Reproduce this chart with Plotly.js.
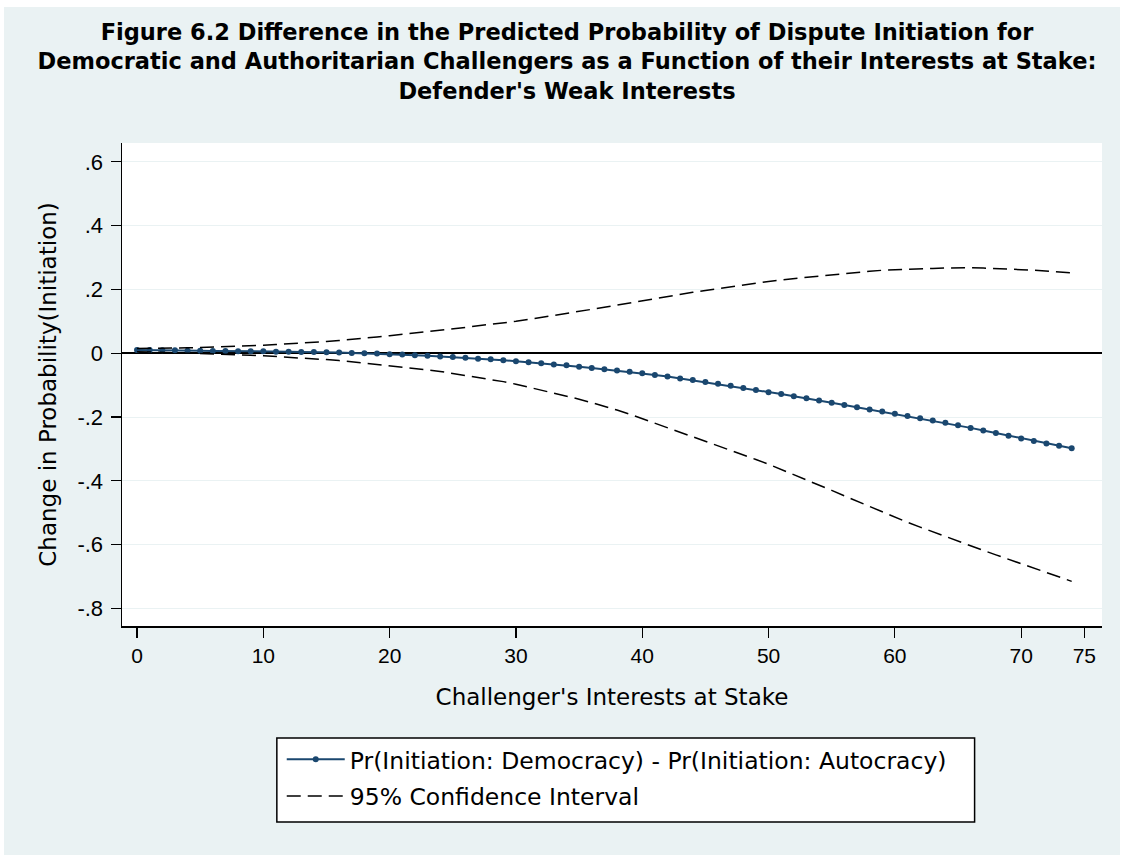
<!DOCTYPE html>
<html>
<head>
<meta charset="utf-8">
<script src="https://cdn.plot.ly/plotly-3.0.1.min.js"></script>
<style>html,body{margin:0;padding:0;background:#fff;}</style>
</head>
<body>
<div id="chart" style="width:1125px;height:855px;"></div>
<script>
// Challenger's interests at stake (x)
const interests = [0,1,2,3,4,5,6,7,8,9,10,11,12,13,14,15,16,17,18,19,20,21,22,23,24,25,26,27,28,29,30,31,32,33,34,35,36,37,38,39,40,41,42,43,44,45,46,47,48,49,50,51,52,53,54,55,56,57,58,59,60,61,62,63,64,65,66,67,68,69,70,71,72,73,74];

// Pr(Initiation: Democracy) - Pr(Initiation: Autocracy)
const diffProb = [0.010,0.010,0.009,0.009,0.008,0.008,0.007,0.007,0.006,0.006,
  0.006,0.005,0.005,0.004,0.004,0.003,0.002,0.001,0.000,-0.001,
  -0.003,-0.004,-0.006,-0.008,-0.010,-0.012,-0.014,-0.017,-0.019,-0.022,
  -0.025,-0.028,-0.031,-0.035,-0.038,-0.042,-0.046,-0.050,-0.054,-0.058,
  -0.063,-0.068,-0.073,-0.079,-0.084,-0.090,-0.096,-0.102,-0.109,-0.115,
  -0.122,-0.128,-0.135,-0.141,-0.148,-0.155,-0.162,-0.169,-0.176,-0.183,
  -0.190,-0.197,-0.204,-0.211,-0.218,-0.226,-0.234,-0.242,-0.250,-0.259,
  -0.267,-0.275,-0.283,-0.290,-0.298];

// 95% confidence interval, upper bound
const ciUpper = [0.015,0.015,0.016,0.016,0.017,0.018,0.019,0.020,0.022,0.023,
  0.025,0.027,0.029,0.031,0.034,0.037,0.040,0.043,0.047,0.051,
  0.055,0.059,0.063,0.068,0.072,0.077,0.081,0.086,0.090,0.095,
  0.100,0.106,0.112,0.118,0.124,0.130,0.137,0.144,0.151,0.158,
  0.165,0.172,0.178,0.185,0.191,0.197,0.203,0.209,0.214,0.220,
  0.225,0.230,0.234,0.239,0.243,0.247,0.250,0.253,0.257,0.260,
  0.262,0.264,0.265,0.266,0.267,0.268,0.268,0.267,0.266,0.264,
  0.262,0.260,0.258,0.255,0.252];

// 95% confidence interval, lower bound
const ciLower = [0.005,0.004,0.003,0.002,0.001,0.000,-0.001,-0.003,-0.004,-0.006,
  -0.008,-0.010,-0.012,-0.015,-0.017,-0.020,-0.023,-0.027,-0.030,-0.034,
  -0.038,-0.042,-0.047,-0.052,-0.057,-0.063,-0.069,-0.075,-0.082,-0.089,
  -0.097,-0.106,-0.115,-0.124,-0.134,-0.144,-0.155,-0.166,-0.178,-0.191,
  -0.205,-0.219,-0.233,-0.247,-0.261,-0.275,-0.289,-0.304,-0.318,-0.333,
  -0.348,-0.364,-0.381,-0.397,-0.414,-0.430,-0.447,-0.464,-0.481,-0.498,
  -0.515,-0.530,-0.545,-0.560,-0.575,-0.590,-0.604,-0.618,-0.632,-0.646,
  -0.660,-0.674,-0.688,-0.701,-0.715];

const xTickVals = [0,10,20,30,40,50,60,70,75];
const xTickText = ['0','10','20','30','40','50','60','70','75'];
const yTickVals = [0.6,0.4,0.2,0,-0.2,-0.4,-0.6,-0.8];
const yTickText = ['.6','.4','.2','0','-.2','-.4','-.6','-.8'];

const seriesNames = ['Pr(Initiation: Democracy) - Pr(Initiation: Autocracy)', '95% Confidence Interval'];

const txtFont = 'DejaVu Sans, sans-serif';
const tickFont = 'Liberation Sans, Arial, sans-serif';

const traces = [
  {
    x: interests, y: diffProb, type: 'scatter', mode: 'lines+markers',
    name: seriesNames[0], legendgroup: 'diff',
    line: {color: '#1a476f', width: 2},
    marker: {color: '#1a476f', size: 6, symbol: 'circle'}
  },
  {
    x: interests, y: ciUpper, type: 'scatter', mode: 'lines',
    name: seriesNames[1], legendgroup: 'ci',
    line: {color: '#000000', width: 1.5, dash: '14px,7px'}
  },
  {
    x: interests, y: ciLower, type: 'scatter', mode: 'lines',
    name: seriesNames[1], legendgroup: 'ci', showlegend: false,
    line: {color: '#000000', width: 1.5, dash: '14px,7px'}
  }
];

const layout = {
  width: 1125, height: 855,
  margin: {l: 122, r: 23, t: 143, b: 229},
  paper_bgcolor: '#eaf2f3',
  plot_bgcolor: '#ffffff',
  showlegend: true,
  title: {
    text: 'Figure 6.2 Difference in the Predicted Probability of Dispute Initiation for<br>Democratic and Authoritarian Challengers as a Function of their Interests at Stake:<br>Defender\'s Weak Interests',
    font: {family: txtFont, size: 22.5, color: '#000000', weight: 'bold'},
    x: 0.504, xanchor: 'center', y: 0.953, yanchor: 'top'
  },
  xaxis: {
    range: [-1.19, 76.4],
    tickvals: xTickVals, ticktext: xTickText,
    ticks: 'outside', ticklen: 10, tickwidth: 1.2, tickcolor: '#000',
    showline: true, linecolor: '#000', linewidth: 1.5,
    showgrid: false, zeroline: false,
    tickfont: {family: tickFont, size: 21, color: '#000'},
    title: {text: 'Challenger\'s Interests at Stake', font: {family: txtFont, size: 23, color: '#000'}, standoff: 23}
  },
  yaxis: {
    range: [-0.855, 0.659],
    tickvals: yTickVals, ticktext: yTickText,
    ticks: 'outside', ticklen: 10, tickwidth: 1.2, tickcolor: '#000',
    ticklabelstandoff: 3,
    showline: true, linecolor: '#000', linewidth: 1.5,
    showgrid: true, gridcolor: '#eaf2f3', gridwidth: 1,
    zeroline: true, zerolinecolor: '#000', zerolinewidth: 1.5,
    tickfont: {family: tickFont, size: 22, color: '#000'},
    title: {text: 'Change in Probability(Initiation)', font: {family: txtFont, size: 23, color: '#000'}, standoff: 14}
  },
  legend: {
    x: 0.163, xanchor: 'left', y: -0.231, yanchor: 'top',
    bgcolor: 'rgba(0,0,0,0)', borderwidth: 0,
    font: {family: txtFont, size: 23.5, color: '#000'},
    itemwidth: 58, traceorder: 'grouped', tracegroupgap: 3
  },
  shapes: [
    {type: 'rect', xref: 'paper', yref: 'paper', x0: 0.158, x1: 0.870, y0: -0.232, y1: -0.406,
     line: {color: '#000', width: 1.5}, fillcolor: '#ffffff', layer: 'above'},
    {type: 'rect', xref: 'paper', yref: 'paper', x0: -0.2, x1: 1.2, y0: 1.2816, y1: 1.4,
     line: {width: 0}, fillcolor: '#ffffff', layer: 'above'},
    {type: 'rect', xref: 'paper', yref: 'paper', x0: -0.2, x1: -0.1204, y0: -0.6, y1: 1.4,
     line: {width: 0}, fillcolor: '#ffffff', layer: 'above'},
    {type: 'rect', xref: 'paper', yref: 'paper', x0: 1.0184, x1: 1.2, y0: -0.6, y1: 1.4,
     line: {width: 0}, fillcolor: '#ffffff', layer: 'above'}
  ]
};

Plotly.newPlot('chart', traces, layout, {displayModeBar: false, staticPlot: true});
</script>
</body>
</html>
